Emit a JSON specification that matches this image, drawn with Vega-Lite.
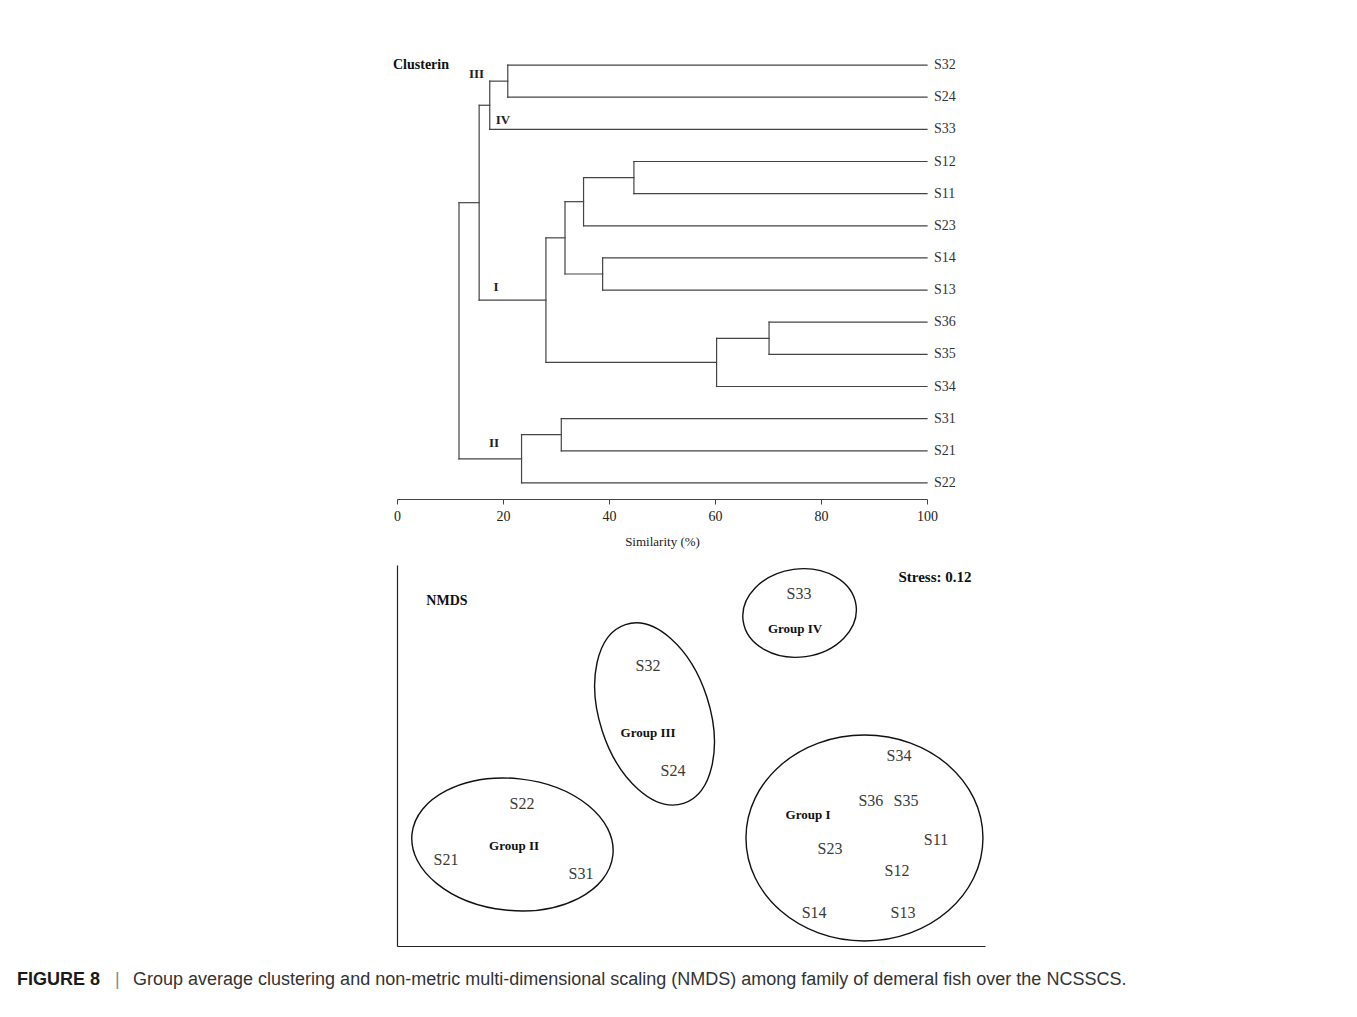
{
  "$schema": "https://vega.github.io/schema/vega-lite/v6.json",
  "padding": {"left": 17, "top": 49, "right": 10, "bottom": 10},
  "background": "white",
  "config": {"view": {"stroke": null}, "font": "Liberation Serif"},
  "datasets": {
    "segments": [
      {"s1": 20.9, "s2": 100, "p1": 0, "p2": 0},
      {"s1": 20.9, "s2": 100, "p1": 1, "p2": 1},
      {"s1": 17.5, "s2": 100, "p1": 2, "p2": 2},
      {"s1": 44.7, "s2": 100, "p1": 3, "p2": 3},
      {"s1": 44.7, "s2": 100, "p1": 4, "p2": 4},
      {"s1": 35.2, "s2": 100, "p1": 5, "p2": 5},
      {"s1": 38.8, "s2": 100, "p1": 6, "p2": 6},
      {"s1": 38.8, "s2": 100, "p1": 7, "p2": 7},
      {"s1": 70.2, "s2": 100, "p1": 8, "p2": 8},
      {"s1": 70.2, "s2": 100, "p1": 9, "p2": 9},
      {"s1": 60.3, "s2": 100, "p1": 10, "p2": 10},
      {"s1": 31.0, "s2": 100, "p1": 11, "p2": 11},
      {"s1": 31.0, "s2": 100, "p1": 12, "p2": 12},
      {"s1": 23.5, "s2": 100, "p1": 13, "p2": 13},
      {"s1": 17.5, "s2": 20.9, "p1": 0.5, "p2": 0.5},
      {"s1": 15.5, "s2": 17.5, "p1": 1.25, "p2": 1.25},
      {"s1": 35.2, "s2": 44.7, "p1": 3.5, "p2": 3.5},
      {"s1": 31.7, "s2": 35.2, "p1": 4.25, "p2": 4.25},
      {"s1": 31.7, "s2": 38.8, "p1": 6.5, "p2": 6.5},
      {"s1": 28.1, "s2": 31.7, "p1": 5.375, "p2": 5.375},
      {"s1": 60.3, "s2": 70.2, "p1": 8.5, "p2": 8.5},
      {"s1": 28.1, "s2": 60.3, "p1": 9.25, "p2": 9.25},
      {"s1": 15.5, "s2": 28.1, "p1": 7.3125, "p2": 7.3125},
      {"s1": 11.7, "s2": 15.5, "p1": 4.28125, "p2": 4.28125},
      {"s1": 23.5, "s2": 31.0, "p1": 11.5, "p2": 11.5},
      {"s1": 11.7, "s2": 23.5, "p1": 12.25, "p2": 12.25},
      {"s1": 20.9, "s2": 20.9, "p1": 0, "p2": 1},
      {"s1": 17.5, "s2": 17.5, "p1": 0.5, "p2": 2},
      {"s1": 44.7, "s2": 44.7, "p1": 3, "p2": 4},
      {"s1": 35.2, "s2": 35.2, "p1": 3.5, "p2": 5},
      {"s1": 38.8, "s2": 38.8, "p1": 6, "p2": 7},
      {"s1": 31.7, "s2": 31.7, "p1": 4.25, "p2": 6.5},
      {"s1": 70.2, "s2": 70.2, "p1": 8, "p2": 9},
      {"s1": 60.3, "s2": 60.3, "p1": 8.5, "p2": 10},
      {"s1": 28.1, "s2": 28.1, "p1": 5.375, "p2": 9.25},
      {"s1": 15.5, "s2": 15.5, "p1": 1.25, "p2": 7.3125},
      {"s1": 31.0, "s2": 31.0, "p1": 11, "p2": 12},
      {"s1": 23.5, "s2": 23.5, "p1": 11.5, "p2": 13},
      {"s1": 11.7, "s2": 11.7, "p1": 4.28125, "p2": 12.25}
    ],
    "leaves": [
      {"leaf": "S32", "order": 0}, {"leaf": "S24", "order": 1}, {"leaf": "S33", "order": 2},
      {"leaf": "S12", "order": 3}, {"leaf": "S11", "order": 4}, {"leaf": "S23", "order": 5},
      {"leaf": "S14", "order": 6}, {"leaf": "S13", "order": 7}, {"leaf": "S36", "order": 8},
      {"leaf": "S35", "order": 9}, {"leaf": "S34", "order": 10}, {"leaf": "S31", "order": 11},
      {"leaf": "S21", "order": 12}, {"leaf": "S22", "order": 13}
    ],
    "clusters": [
      {"cluster": "III", "sim": 15.0, "order": 0.28},
      {"cluster": "IV", "sim": 20.0, "order": 1.71},
      {"cluster": "I", "sim": 18.7, "order": 6.9},
      {"cluster": "II", "sim": 18.3, "order": 11.76}
    ],
    "ellipses": [
      {"group": "IV", "nmds1": 0.554, "nmds2": 0.748},
      {"group": "III", "nmds1": -0.186, "nmds2": 0.218},
      {"group": "II", "nmds1": -0.911, "nmds2": -0.467},
      {"group": "I", "nmds1": 0.885, "nmds2": -0.433}
    ],
    "samples": [
      {"site": "S33", "nmds1": 0.551, "nmds2": 0.848},
      {"site": "S32", "nmds1": -0.219, "nmds2": 0.470},
      {"site": "S24", "nmds1": -0.092, "nmds2": -0.081},
      {"site": "S34", "nmds1": 1.061, "nmds2": -0.003},
      {"site": "S36", "nmds1": 0.918, "nmds2": -0.239},
      {"site": "S35", "nmds1": 1.097, "nmds2": -0.239},
      {"site": "S11", "nmds1": 1.250, "nmds2": -0.444},
      {"site": "S23", "nmds1": 0.709, "nmds2": -0.491},
      {"site": "S12", "nmds1": 1.051, "nmds2": -0.606},
      {"site": "S14", "nmds1": 0.628, "nmds2": -0.827},
      {"site": "S13", "nmds1": 1.082, "nmds2": -0.827},
      {"site": "S22", "nmds1": -0.862, "nmds2": -0.255},
      {"site": "S21", "nmds1": -1.250, "nmds2": -0.549},
      {"site": "S31", "nmds1": -0.561, "nmds2": -0.622}
    ],
    "groupLabels": [
      {"label": "Group IV", "nmds1": 0.531, "nmds2": 0.664},
      {"label": "Group III", "nmds1": -0.219, "nmds2": 0.118},
      {"label": "Group I", "nmds1": 0.597, "nmds2": -0.312},
      {"label": "Group II", "nmds1": -0.903, "nmds2": -0.475}
    ]
  },
  "bounds": "full",
  "spacing": 24,
  "vconcat": [
    {
      "bounds": "flush",
      "spacing": 9,
      "hconcat": [
        {"width": 371, "height": 897, "data": {"values": []}, "mark": "point", "encoding": {}},
        {
          "bounds": "flush",
          "spacing": 66,
          "vconcat": [
            {
              "width": 530,
              "height": 450,
              "layer": [
                {
                  "data": {"name": "segments"},
                  "mark": {"type": "rule", "color": "#444", "strokeWidth": 1.2, "strokeCap": "square"},
                  "encoding": {
                    "x": {
                      "field": "s1", "type": "quantitative",
                      "scale": {"domain": [0, 100], "nice": false, "zero": false},
                      "axis": {
                        "values": [0, 20, 40, 60, 80, 100], "grid": false, "tickSize": 5,
                        "tickColor": "#444", "domainColor": "#444", "labelFlush": false,
                        "labelFont": "Liberation Serif", "labelFontSize": 14, "labelColor": "#222",
                        "labelPadding": 5, "labelOverlap": false,
                        "title": "Similarity (%)", "titleFont": "Liberation Serif", "titleFontSize": 13,
                        "titleFontWeight": "normal", "titleColor": "#222", "titlePadding": 12
                      }
                    },
                    "x2": {"field": "s2"},
                    "y": {
                      "field": "p1", "type": "quantitative",
                      "scale": {"domain": [-0.5, 13.5], "reverse": true, "nice": false, "zero": false},
                      "axis": null
                    },
                    "y2": {"field": "p2"}
                  }
                },
                {
                  "data": {"name": "leaves"},
                  "mark": {"type": "text", "align": "left", "baseline": "middle", "dx": 7, "fontSize": 14, "color": "#333"},
                  "encoding": {
                    "x": {"datum": 100, "type": "quantitative"},
                    "y": {"field": "order", "type": "quantitative"},
                    "text": {"field": "leaf"}
                  }
                },
                {
                  "data": {"name": "clusters"},
                  "mark": {"type": "text", "align": "center", "baseline": "middle", "fontSize": 13, "fontWeight": "bold", "color": "#222"},
                  "encoding": {
                    "x": {"field": "sim", "type": "quantitative"},
                    "y": {"field": "order", "type": "quantitative"},
                    "text": {"field": "cluster"}
                  }
                },
                {
                  "data": {"values": [{"t": "Clusterin"}]},
                  "mark": {"type": "text", "align": "left", "baseline": "middle", "dx": -4, "fontSize": 14, "fontWeight": "bold", "color": "#111"},
                  "encoding": {
                    "x": {"datum": 0, "type": "quantitative"},
                    "y": {"datum": 0, "type": "quantitative"},
                    "text": {"field": "t"}
                  }
                }
              ]
            },
            {
              "width": 588,
              "height": 381,
              "layer": [
                {
                  "data": {"name": "ellipses"},
                  "transform": [{"filter": "datum.group === 'IV'"}],
                  "mark": {"type": "point", "shape": "M 1 0 C 1 0.4264 0.5523 0.772 0 0.772 C -0.5523 0.772 -1 0.4264 -1 0 C -1 -0.4264 -0.5523 -0.772 0 -0.772 C 0.5523 -0.772 1 -0.4264 1 0 Z", "size": 12996, "angle": -8, "filled": false, "color": "#111", "strokeWidth": 1.4, "opacity": 1},
                  "encoding": {
                    "x": {
                      "field": "nmds1", "type": "quantitative",
                      "scale": {"domain": [-1.5, 1.5], "nice": false, "zero": false},
                      "axis": {"domain": true, "ticks": false, "labels": false, "grid": false, "title": null, "domainColor": "#222", "domainWidth": 1.2}
                    },
                    "y": {
                      "field": "nmds2", "type": "quantitative",
                      "scale": {"domain": [-1, 1], "nice": false, "zero": false},
                      "axis": {"domain": true, "ticks": false, "labels": false, "grid": false, "title": null, "domainColor": "#222", "domainWidth": 1.2}
                    }
                  }
                },
                {
                  "data": {"name": "ellipses"},
                  "transform": [{"filter": "datum.group === 'III'"}],
                  "mark": {"type": "point", "shape": "M 1 0 C 1 0.3231 0.5523 0.585 0 0.585 C -0.5523 0.585 -1 0.3231 -1 0 C -1 -0.3231 -0.5523 -0.585 0 -0.585 C 0.5523 -0.585 1 -0.3231 1 0 Z", "size": 35344, "angle": 72, "filled": false, "color": "#111", "strokeWidth": 1.4, "opacity": 1},
                  "encoding": {
                    "x": {"field": "nmds1", "type": "quantitative"},
                    "y": {"field": "nmds2", "type": "quantitative"}
                  }
                },
                {
                  "data": {"name": "ellipses"},
                  "transform": [{"filter": "datum.group === 'II'"}],
                  "mark": {"type": "point", "shape": "M 1 0 C 1 0.3607 0.5523 0.653 0 0.653 C -0.5523 0.653 -1 0.3607 -1 0 C -1 -0.3607 -0.5523 -0.653 0 -0.653 C 0.5523 -0.653 1 -0.3607 1 0 Z", "size": 40804, "angle": 6, "filled": false, "color": "#111", "strokeWidth": 1.4, "opacity": 1},
                  "encoding": {
                    "x": {"field": "nmds1", "type": "quantitative"},
                    "y": {"field": "nmds2", "type": "quantitative"}
                  }
                },
                {
                  "data": {"name": "ellipses"},
                  "transform": [{"filter": "datum.group === 'I'"}],
                  "mark": {"type": "point", "shape": "M 1 0 C 1 0.4799 0.5523 0.869 0 0.869 C -0.5523 0.869 -1 0.4799 -1 0 C -1 -0.4799 -0.5523 -0.869 0 -0.869 C 0.5523 -0.869 1 -0.4799 1 0 Z", "size": 56169, "angle": 0, "filled": false, "color": "#111", "strokeWidth": 1.4, "opacity": 1},
                  "encoding": {
                    "x": {"field": "nmds1", "type": "quantitative"},
                    "y": {"field": "nmds2", "type": "quantitative"}
                  }
                },
                {
                  "data": {"name": "samples"},
                  "mark": {"type": "text", "align": "center", "baseline": "middle", "fontSize": 16, "color": "#3a3a3a"},
                  "encoding": {
                    "x": {"field": "nmds1", "type": "quantitative"},
                    "y": {"field": "nmds2", "type": "quantitative"},
                    "text": {"field": "site"}
                  }
                },
                {
                  "data": {"name": "groupLabels"},
                  "mark": {"type": "text", "align": "center", "baseline": "middle", "fontSize": 13, "fontWeight": "bold", "color": "#111"},
                  "encoding": {
                    "x": {"field": "nmds1", "type": "quantitative"},
                    "y": {"field": "nmds2", "type": "quantitative"},
                    "text": {"field": "label"}
                  }
                },
                {
                  "data": {"values": [{"t": "NMDS", "nmds1": -1.245, "nmds2": 0.811}]},
                  "mark": {"type": "text", "align": "center", "baseline": "middle", "fontSize": 14, "fontWeight": "bold", "color": "#111"},
                  "encoding": {
                    "x": {"field": "nmds1", "type": "quantitative"},
                    "y": {"field": "nmds2", "type": "quantitative"},
                    "text": {"field": "t"}
                  }
                },
                {
                  "data": {"values": [{"t": "Stress: 0.12", "nmds1": 1.245, "nmds2": 0.937}]},
                  "mark": {"type": "text", "align": "center", "baseline": "middle", "fontSize": 15, "fontWeight": "bold", "color": "#111"},
                  "encoding": {
                    "x": {"field": "nmds1", "type": "quantitative"},
                    "y": {"field": "nmds2", "type": "quantitative"},
                    "text": {"field": "t"}
                  }
                }
              ]
            }
          ]
        }
      ]
    },
    {
      "width": 1320,
      "height": 20,
      "data": {"values": [{"anchor": 0, "fig": "FIGURE 8", "sep": "|", "caption": "Group average clustering and non-metric multi-dimensional scaling (NMDS) among family of demeral fish over the NCSSCS."}]},
      "encoding": {"x": {"field": "anchor", "type": "quantitative", "scale": {"domain": [0, 1]}, "axis": null}},
      "layer": [
        {"mark": {"type": "text", "align": "left", "baseline": "middle", "font": "Liberation Sans", "fontSize": 18, "fontWeight": "bold", "color": "#1a1a1a"}, "encoding": {"text": {"field": "fig"}}},
        {"mark": {"type": "text", "align": "left", "baseline": "middle", "font": "Liberation Sans", "fontSize": 18, "dx": 98, "color": "#888"}, "encoding": {"text": {"field": "sep"}}},
        {"mark": {"type": "text", "align": "left", "baseline": "middle", "font": "Liberation Sans", "fontSize": 18, "dx": 116, "color": "#333"}, "encoding": {"text": {"field": "caption"}}}
      ]
    }
  ]
}
